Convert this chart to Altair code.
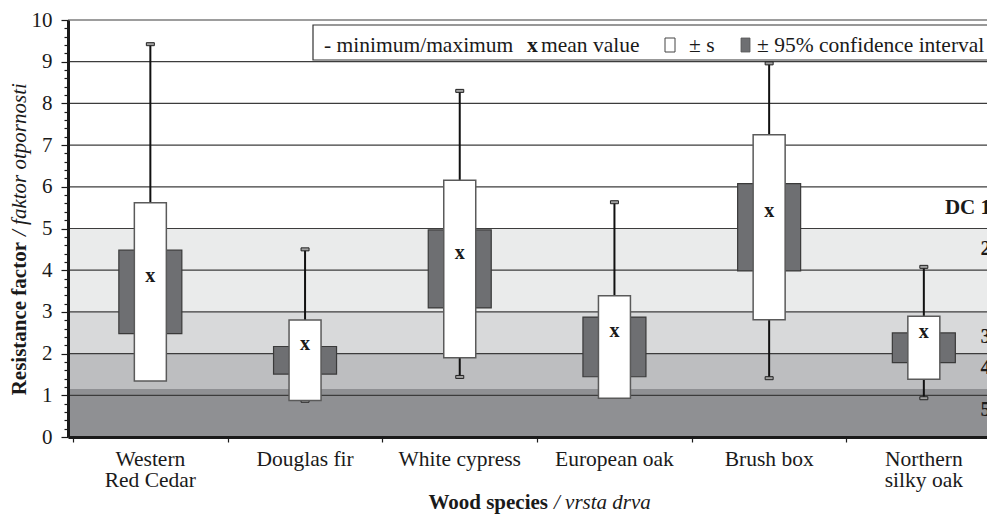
import altair as alt
import pandas as pd

# ---------------- data ----------------
species = ["Western\nRed Cedar", "Douglas fir", "White cypress",
           "European oak", "Brush box", "Northern\nsilky oak"]
mean_val = [3.48, 1.84, 4.03, 2.16, 5.03, 2.14]
sd_val = [2.14, 0.965, 2.13, 1.23, 2.22, 0.755]
ci95_val = [1.00, 0.33, 0.935, 0.715, 1.045, 0.355]
min_val = [1.50, 0.87, 1.44, 1.00, 1.41, 0.93]
max_val = [9.42, 4.50, 8.30, 5.63, 8.96, 4.08]

dc_labels = ["DC 1", "2", "3", "4", "5"]
dc_label_y = [5.5, 4.5, 2.4, 1.65, 0.65]
band_top = [10, 5, 3, 2, 1.15]
band_bottom = [5, 3, 2, 1.15, 0]
band_color = ["#ffffff", "#eaebeb", "#d8d9da", "#bdbec0", "#8f9093"]
grid_values = [1, 2, 3, 4, 5, 6, 7, 8, 9, 10]
y_tick_values = [round(i * 0.2, 1) for i in range(51)]

df = pd.DataFrame({
    "species": species,
    "pos": [i + 0.5 for i in range(len(species))],
    "mean": mean_val, "sd": sd_val, "ci": ci95_val,
    "vmin": min_val, "vmax": max_val,
})
bands = pd.DataFrame({"top": band_top, "bottom": band_bottom, "color": band_color})
grid = pd.DataFrame({"v": grid_values})
dc = pd.DataFrame({"label": dc_labels, "y": dc_label_y})

# ---------------- layout / style ----------------
W, H = 919, 417
CAT_PX = 156.4
SERIF = "'Liberation Serif', 'Times New Roman', Times, serif"
INK = "#1a1a1a"
one = alt.Data(values=[{}])

xscale = alt.Scale(domain=[0, W / CAT_PX], nice=False, zero=False)
yscale = alt.Scale(domain=[0, 10], nice=False, zero=True)

x_axis = alt.Axis(values=[0, 1, 2, 3, 4, 5], labels=False, tickSize=5, tickWidth=1.2,
                  tickColor=INK, domainWidth=3, domainColor=INK, grid=False,
                  title=None, zindex=1)
y_axis = alt.Axis(values=y_tick_values,
                  labelExpr="datum.value % 1 === 0 ? format(datum.value, 'd') : ''",
                  tickSize={"condition": {"test": "datum.value % 1 === 0", "value": 7}, "value": 4},
                  tickWidth=1.2, tickColor=INK, domainWidth=3, domainColor=INK,
                  grid=False, title=None, zindex=1, labelFont=SERIF, labelFontSize=21,
                  labelColor=INK, labelPadding=9, labelOverlap=False)

X = lambda f: alt.X(f, type="quantitative", scale=xscale, axis=x_axis)
Y = lambda f: alt.Y(f, type="quantitative", scale=yscale, axis=y_axis)

base = alt.Chart(df).transform_calculate(
    s_lo="datum.mean - datum.sd", s_hi="datum.mean + datum.sd",
    c_lo="datum.mean - datum.ci", c_hi="datum.mean + datum.ci",
)

band_layer = alt.Chart(bands).mark_rect().encode(
    x=alt.value(0), x2=alt.value(W),
    y=Y("top"), y2="bottom:Q",
    color=alt.Color("color:N", scale=None),
)
grid_layer = alt.Chart(grid).mark_rule(color="#3c3c3c", strokeWidth=1.2).encode(y=Y("v"))

whisker = base.mark_rule(color="#111111", strokeWidth=2).encode(x=X("pos"), y=Y("vmin"), y2="vmax:Q")
caps = base.transform_fold(["vmin", "vmax"], as_=["k", "v"]).mark_tick(
    orient="horizontal", size=8, thickness=3, color="#a0a0a0", stroke="#222222",
    strokeWidth=1, opacity=1).encode(x=X("pos"), y=Y("v"))
ci_box = base.mark_bar(size=63, color="#6e6f72", stroke="#3a3a3a", strokeWidth=1.2).encode(
    x=X("pos"), y=Y("c_lo"), y2="c_hi:Q")
sd_box = base.mark_bar(size=32, color="#ffffff", stroke="#5a5a5a", strokeWidth=1.5).encode(
    x=X("pos"), y=Y("s_lo"), y2="s_hi:Q")
mean_mark = base.mark_text(text="x", font=SERIF, fontWeight="bold", fontSize=20, dy=-16,
                           baseline="middle", color=INK).encode(x=X("pos"), y=Y("mean"))

dc_layer = alt.Chart(dc).mark_text(align="right", baseline="middle", font=SERIF,
                                   fontWeight="bold", fontSize=21, color=INK).encode(
    x=alt.value(923), y=Y("y"), text="label:N")

cat_labels = alt.Chart(df).mark_text(align="center", baseline="alphabetic", lineBreak="\n",
                                     lineHeight=21, font=SERIF, fontSize=21.5, color=INK).encode(
    x=X("pos"), y=alt.value(446), text="species:N")

# legend box
leg_box = alt.Chart(one).mark_rect(fill="white", stroke="#333333", strokeWidth=1.2).encode(
    x=alt.value(245), x2=alt.value(940), y=alt.value(5), y2=alt.value(40))

def txt(s, x, y, weight="normal", style="normal", size=21.5, align="left", angle=0, baseline="alphabetic"):
    return alt.Chart(one).mark_text(text=s, font=SERIF, fontSize=size, fontWeight=weight,
                                    fontStyle=style, align=align, angle=angle,
                                    baseline=baseline, color=INK).encode(
        x=alt.value(x), y=alt.value(y))

leg_items = [
    txt("- minimum/maximum", 256, 32),
    txt("x", 459, 32, weight="bold"),
    txt("mean value", 473, 32),
    alt.Chart(one).mark_rect(fill="white", stroke="#444444", strokeWidth=1).encode(
        x=alt.value(597), x2=alt.value(607), y=alt.value(18), y2=alt.value(32)),
    txt("\u00b1 s", 621, 32),
    alt.Chart(one).mark_rect(fill="#6e6f72", stroke="#555555", strokeWidth=0.8).encode(
        x=alt.value(673), x2=alt.value(682), y=alt.value(18), y2=alt.value(32)),
    txt("\u00b1 95% confidence interval", 689, 32),
]

titles = [
    txt("Resistance factor", -48, 222, weight="bold", size=21, align="right", angle=270, baseline="middle"),
    txt("/ faktor otpornosti", -48, 216, style="italic", size=21, align="left", angle=270, baseline="middle"),
    txt("Wood species", 480, 489, weight="bold", size=21, align="right"),
    txt("/ vrsta drva", 486, 489, style="italic", size=21, align="left"),
]

chart = alt.layer(
    band_layer, grid_layer, whisker, caps, ci_box, sd_box, mean_mark, dc_layer,
    cat_labels, leg_box, *leg_items, *titles
).properties(
    width=W, height=H,
    autosize=alt.AutoSizeParams(type="none"),
    padding={"left": 60, "top": 12, "right": 0, "bottom": 77},
    background="white",
).configure_view(stroke=None)

chart.save("out.html", embed_options={"renderer": "svg", "actions": False})
